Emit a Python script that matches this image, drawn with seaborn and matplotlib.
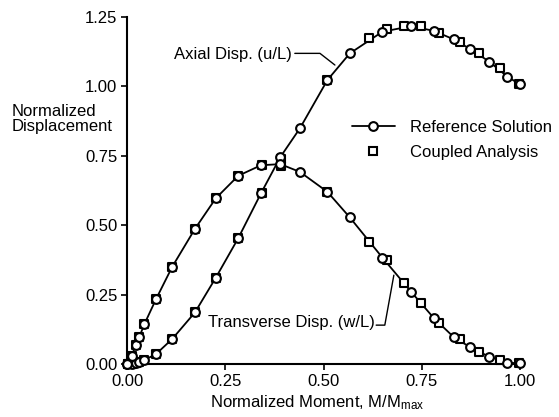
import numpy as np
import pandas as pd
import matplotlib
matplotlib.use("Agg")
import matplotlib.pyplot as plt
from matplotlib.lines import Line2D
import seaborn as sns

# Reference solution (circles, with connecting line)
ref_x = [0.0, 0.012, 0.023, 0.031, 0.044, 0.074, 0.115, 0.173, 0.226, 0.283,
         0.341, 0.39, 0.44, 0.51, 0.567, 0.65, 0.723, 0.781, 0.832, 0.874,
         0.922, 0.968, 1.0]
ref_axial = [0.0, 0.0, 0.002, 0.006, 0.014, 0.036, 0.09, 0.186, 0.311, 0.453,
             0.615, 0.745, 0.849, 1.023, 1.119, 1.197, 1.217, 1.2, 1.169, 1.134,
             1.089, 1.035, 1.007]
ref_trans = [0.0, 0.03, 0.07, 0.096, 0.143, 0.234, 0.35, 0.487, 0.597, 0.678,
             0.716, 0.72, 0.692, 0.62, 0.528, 0.383, 0.26, 0.165, 0.096, 0.06,
             0.026, 0.005, 0.002]

# Coupled analysis (squares)
cpl_x = [0.003, 0.012, 0.023, 0.031, 0.044, 0.074, 0.115, 0.173, 0.226, 0.283,
         0.343, 0.392, 0.51, 0.617, 0.661, 0.705, 0.748, 0.795, 0.847, 0.896,
         0.949, 0.998]
cpl_axial = [0.0, 0.0, 0.002, 0.006, 0.014, 0.036, 0.09, 0.186, 0.311, 0.453,
             0.615, 0.74, 1.023, 1.173, 1.205, 1.218, 1.217, 1.194, 1.161, 1.119,
             1.065, 1.007]
cpl_trans = [0.0, 0.03, 0.07, 0.096, 0.143, 0.234, 0.35, 0.487, 0.597, 0.678,
             0.716, 0.713, 0.62, 0.44, 0.375, 0.293, 0.218, 0.147, 0.089, 0.044,
             0.014, 0.002]

x_ticks = [0.0, 0.25, 0.5, 0.75, 1.0]
x_tick_labels = ["0.00", "0.25", "0.50", "0.75", "1.00"]
y_ticks = [0.0, 0.25, 0.5, 0.75, 1.0, 1.25]
y_tick_labels = ["0.00", "0.25", "0.50", "0.75", "1.00", "1.25"]

sns.set_theme(style="ticks")
plt.rcParams['font.family'] = ['Liberation Sans', 'DejaVu Sans']
plt.rcParams['mathtext.fontset'] = 'custom'
plt.rcParams['mathtext.rm'] = 'Liberation Sans'
plt.rcParams['mathtext.it'] = 'Liberation Sans'
FS = 12

ref_df = pd.DataFrame({"x": ref_x, "axial": ref_axial, "trans": ref_trans})
cpl_df = pd.DataFrame({"x": cpl_x, "axial": cpl_axial, "trans": cpl_trans})

fig = plt.figure(figsize=(5.59, 4.17), dpi=100)
ax = fig.add_axes([127/559, 53/417, 393/559, 347/417])

ms = 6.3
mew = 1.5
for col in ["axial", "trans"]:
    sns.lineplot(data=ref_df, x="x", y=col, ax=ax, color="black", lw=1.3,
                 sort=False, zorder=1)
    sns.scatterplot(data=cpl_df, x="x", y=col, ax=ax, marker="s", s=ms**2,
                    facecolor="white", edgecolor="black", linewidth=mew,
                    zorder=2, clip_on=False)
    sns.scatterplot(data=ref_df, x="x", y=col, ax=ax, marker="o", s=ms**2,
                    facecolor="white", edgecolor="black", linewidth=mew,
                    zorder=3, clip_on=False)

ax.set_xlim(0, 1.0)
ax.set_ylim(0, 1.25)
ax.set_xticks(x_ticks)
ax.set_xticklabels(x_tick_labels, fontsize=FS)
ax.set_yticks(y_ticks)
ax.set_yticklabels(y_tick_labels, fontsize=FS)
ax.tick_params(axis="both", direction="out", length=4, width=1.2,
               color="black", labelcolor="black")
ax.tick_params(axis="x", pad=3)
ax.tick_params(axis="y", pad=3)
for s in ["top", "right"]:
    ax.spines[s].set_visible(False)
for s in ["left", "bottom"]:
    ax.spines[s].set_linewidth(1.5)
    ax.spines[s].set_color("black")
ax.set_facecolor("white")

ax.set_xlabel(r"Normalized Moment, M/M$_{\rm max}$", fontsize=FS,
              ha="left", va="top", color="black")
ax.xaxis.set_label_coords((210-127)/393, (364-393)/347)
ax.set_ylabel("Normalized\nDisplacement", fontsize=FS, rotation=0,
              ha="left", va="center", multialignment="left", linespacing=1.0,
              color="black")
ax.yaxis.set_label_coords((12-127)/393, (364-119)/347)

# annotations
ax.text(0.42, 1.115, "Axial Disp. (u/L)", ha="right", va="center",
        fontsize=FS, color="black")
ax.plot([0.427, 0.491, 0.529], [1.119, 1.119, 1.077], color="black", lw=1.0)
ax.text(0.631, 0.148, "Transverse Disp. (w/L)", ha="right", va="center",
        fontsize=FS, color="black")
ax.plot([0.634, 0.656, 0.679], [0.14, 0.14, 0.32], color="black", lw=1.0)

h_ref = Line2D([], [], color="black", lw=1.3, marker="o", markersize=ms,
               markerfacecolor="white", markeredgecolor="black",
               markeredgewidth=mew)
h_cpl = Line2D([], [], color="none", lw=0, marker="s", markersize=ms,
               markerfacecolor="white", markeredgecolor="black",
               markeredgewidth=mew)
ax.legend([h_ref, h_cpl], ["Reference Solution", "Coupled Analysis"],
          loc="upper left", bbox_to_anchor=(352/559, 1-120/417),
          bbox_transform=fig.transFigure, frameon=False, fontsize=FS,
          handlelength=2.55, handletextpad=0.9, borderpad=0, borderaxespad=0,
          labelspacing=0.6, labelcolor="black")

fig.savefig("out.png", dpi=100, facecolor="white")
